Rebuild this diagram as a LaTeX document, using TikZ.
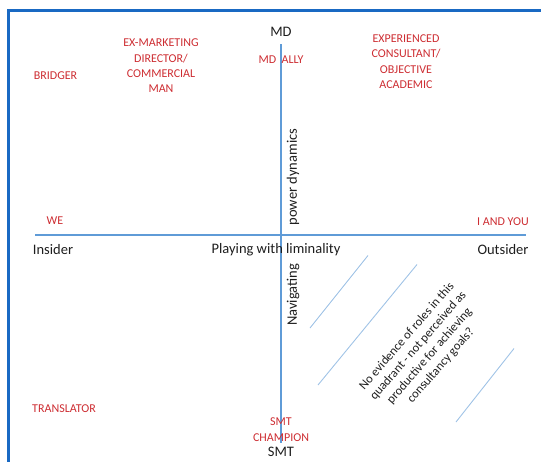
\documentclass[tikz,border=0pt]{standalone}
\usepackage{fontspec}
\setmainfont{Carlito}
\usetikzlibrary{positioning}
\definecolor{frameblue}{RGB}{25,105,195}
\definecolor{axisblue}{RGB}{95,155,215}
\definecolor{hatchblue}{RGB}{160,195,230}
\definecolor{rolered}{RGB}{205,45,50}
\definecolor{poletext}{RGB}{30,30,30}
\tikzset{
  role/.style={text=rolered, font=\fontsize{12}{15.3}\selectfont, align=center, inner sep=0pt},
  pole/.style={text=poletext, font=\fontsize{14.5}{16}\selectfont, inner sep=0pt},
  note/.style={text=poletext, font=\fontsize{12.5}{15}\selectfont, align=center, inner sep=0pt},
  axis/.style={draw=axisblue, line width=2pt},
  hatch/.style={draw=hatchblue, line width=0.9pt}
}

\begin{document}
\begin{tikzpicture}[x=1pt, y=-1pt]
\useasboundingbox (0,0) rectangle (541,461);

\draw[frameblue, line width=2.6pt] (8.5,462) -- (8.5,10.5) -- (542,10.5);

\coordinate (top) at (281,44);
\coordinate (bottom) at (281,443);
\coordinate (left) at (35,234.5);
\coordinate (right) at (526,234.5);
\draw[axis] (left) -- (right);
\draw[axis] (top) -- (bottom);

\draw[hatch] (310,328) -- (368,255.5);
\draw[hatch] (318,385) -- (417,264.5);
\draw[hatch] (456,422) -- (514,348.5);

\node[pole] (md) at (281,32) {MD};
\node[pole] (smt) at (281,452) {SMT};
\node[pole] (insider) at (53,250) {Insider};
\node[pole] (outsider) at (503,250) {Outsider};
\node[pole] (playing) at (276,250) {Playing with liminality};
\node[pole, rotate=90] (power) at (293,177) {power dynamics};
\node[pole, rotate=90] (navigating) at (293,295) {Navigating};

\node[role] (mdally) at (281,59.5) {MD~ ALLY};
\node[role] (bridger) at (55.5,76) {BRIDGER};
\node[role] (exmarketing) at (161,66) {EX-MARKETING\\DIRECTOR/\\COMMERCIAL\\MAN};
\node[role] (experienced) at (406,61.5) {EXPERIENCED\\CONSULTANT/\\OBJECTIVE\\ACADEMIC};
\node[role] (we) at (55,221) {WE};
\node[role, anchor=east] (iandyou) at (529,222) {I AND YOU};
\node[role] (translator) at (64,409) {TRANSLATOR};
\node[role] (champion) at (281,429.5) {SMT\\CHAMPION};

\node[note, rotate=49] (noroles) at (424,351) {No evidence of roles in this\\quadrant - not perceived as\\productive for achieving\\consultancy goals?};
\end{tikzpicture}
\end{document}
